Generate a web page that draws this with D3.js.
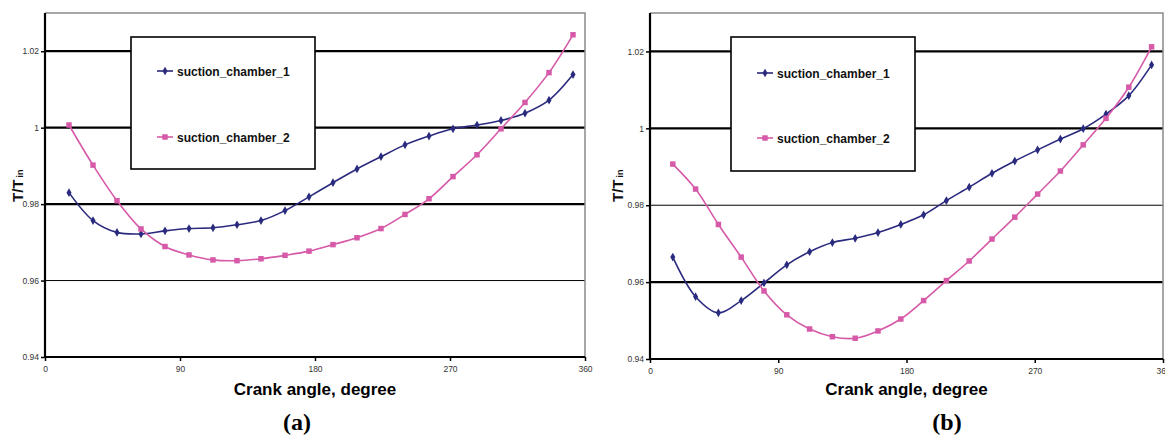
<!DOCTYPE html>
<html>
<head>
<meta charset="utf-8">
<script src="https://cdn.jsdelivr.net/npm/d3@7/dist/d3.min.js"></script>
<style>
  body { margin: 0; background: #fff; }
  svg { display: block; font-family: Arial, "Liberation Sans", sans-serif; }
</style>
</head>
<body>
<svg id="vis" width="1165" height="437"></svg>
<script>
// crank angles where the points were sampled
var angles = [16, 32, 48, 64, 80, 96, 112, 128, 144, 160, 176, 192, 208, 224, 240, 256, 272, 288, 304, 320, 336, 352];

// panel (a)
var chamber1A = [0.9830, 0.9757, 0.9726, 0.9722, 0.9730, 0.9736, 0.9738, 0.9746, 0.9757, 0.9783, 0.9819, 0.9856,
                 0.9892, 0.9924, 0.9955, 0.9978, 0.9997, 1.0007, 1.0019, 1.0038, 1.0072, 1.0139];
var chamber2A = [1.0007, 0.9902, 0.9809, 0.9735, 0.9689, 0.9667, 0.9654, 0.9652, 0.9657, 0.9666, 0.9677, 0.9694,
                 0.9712, 0.9736, 0.9773, 0.9814, 0.9872, 0.9929, 0.9997, 1.0066, 1.0144, 1.0243];

// panel (b)
var chamber1B = [0.9665, 0.9562, 0.9520, 0.9552, 0.9598, 0.9645, 0.9679, 0.9703, 0.9714, 0.9729, 0.9750, 0.9775,
                 0.9812, 0.9847, 0.9883, 0.9915, 0.9944, 0.9972, 0.9999, 1.0037, 1.0085, 1.0165];
var chamber2B = [0.9907, 0.9842, 0.9750, 0.9665, 0.9577, 0.9515, 0.9478, 0.9458, 0.9454, 0.9473, 0.9504, 0.9552,
                 0.9604, 0.9655, 0.9712, 0.9769, 0.9829, 0.9889, 0.9957, 1.0026, 1.0107, 1.0212];

var seriesNames = ["suction_chamber_1", "suction_chamber_2"];
var xTicks = [0, 90, 180, 270, 360];
var yTicks = [0.94, 0.96, 0.98, 1, 1.02];
var yTickLabels = ["0.94", "0.96", "0.98", "1", "1.02"];
var panelLabels = ["(a)", "(b)"];

var colors = ["#2a2a7e", "#d65aa8"];
var svg = d3.select("#vis");

////////// one panel //////////
function drawPanel(opt) {
  var x = d3.scaleLinear().domain([0, 360]).range(opt.xr);
  var y = d3.scaleLinear().domain([0.94, 1.03]).range(opt.yr);
  var g = svg.append("g");

  // gridlines (thickness differs per line in the original)
  g.selectAll("line.grid")
    .data(yTicks.slice(1))
    .enter().append("line")
    .attr("x1", opt.xr[0]).attr("x2", opt.xr[1])
    .attr("y1", function (d) { return y(d); })
    .attr("y2", function (d) { return y(d); })
    .attr("stroke", "#000")
    .attr("stroke-width", function (d, i) { return opt.gridW[i]; });

  // gray plot border top / right
  g.append("path")
    .attr("d", "M" + opt.xr[0] + "," + opt.yr[1] + "H" + opt.xr[1] + "V" + opt.yr[0])
    .attr("fill", "none").attr("stroke", "#8a8a8a").attr("stroke-width", 1.5);

  // axes
  var xAxis = g.append("g")
    .attr("transform", "translate(0," + opt.yr[0] + ")")
    .call(d3.axisBottom(x).tickValues(xTicks).tickSize(4).tickPadding(5).tickFormat(d3.format("d")));
  var yAxis = g.append("g")
    .attr("transform", "translate(" + opt.xr[0] + ",0)")
    .call(d3.axisLeft(y).tickValues(yTicks).tickSize(4).tickPadding(2)
      .tickFormat(function (d, i) { return yTickLabels[i]; }));
  [xAxis, yAxis].forEach(function (a) {
    a.select(".domain").attr("stroke", "#000").attr("stroke-width", 2.2);
    a.selectAll(".tick line").attr("stroke", "#000").attr("stroke-width", 1.5);
    a.selectAll(".tick text").attr("fill", "#333").style("font-size", "8.5px");
  });
  yAxis.select(".domain").attr("d", "M0," + opt.yr[0] + "V" + opt.yr[1]);
  xAxis.select(".domain").attr("d", "M" + opt.xr[0] + ",0H" + opt.xr[1]);

  // series
  var line = d3.line()
    .x(function (d) { return x(d[0]); })
    .y(function (d) { return y(d[1]); })
    .curve(d3.curveCatmullRom.alpha(0.5));

  opt.series.forEach(function (vals, si) {
    var pts = angles.map(function (a, i) { return [a, vals[i]]; });
    g.append("path")
      .datum(pts)
      .attr("d", line)
      .attr("fill", "none")
      .attr("stroke", colors[si])
      .attr("stroke-width", 1.6);
    var sym = si === 0 ? d3.symbolDiamond : d3.symbolSquare;
    g.selectAll("path.m" + si)
      .data(pts)
      .enter().append("path")
      .attr("class", "m" + si)
      .attr("transform", function (d) { return "translate(" + x(d[0]) + "," + y(d[1]) + ")"; })
      .attr("d", d3.symbol().type(sym).size(si === 0 ? 22 : 30))
      .attr("fill", colors[si]);
  });

  // legend
  var lg = g.append("g").attr("transform", "translate(" + opt.legend[0] + "," + opt.legend[1] + ")");
  lg.append("rect")
    .attr("width", opt.legend[2]).attr("height", opt.legend[3])
    .attr("fill", "#fff").attr("stroke", "#000").attr("stroke-width", 1.6);
  seriesNames.forEach(function (name, si) {
    var ly = si === 0 ? opt.legendRows[0] : opt.legendRows[1];
    lg.append("line")
      .attr("x1", 26).attr("x2", 42).attr("y1", ly).attr("y2", ly)
      .attr("stroke", colors[si]).attr("stroke-width", 1.6);
    lg.append("path")
      .attr("transform", "translate(34," + ly + ")")
      .attr("d", d3.symbol().type(si === 0 ? d3.symbolDiamond : d3.symbolSquare).size(si === 0 ? 22 : 30))
      .attr("fill", colors[si]);
    lg.append("text")
      .attr("x", 46).attr("y", ly + 4.5)
      .style("font-size", "12px").style("font-weight", "bold")
      .attr("fill", "#111")
      .text(name);
  });

  // axis titles
  var cx = (opt.xr[0] + opt.xr[1]) / 2;
  g.append("text")
    .attr("x", cx).attr("y", 395)
    .attr("text-anchor", "middle")
    .style("font-size", "17px").style("font-weight", "bold")
    .text("Crank angle, degree");

  var yt = g.append("text")
    .attr("transform", "translate(" + opt.yLabelX + ",202) rotate(-90)")
    .style("font-weight", "bold")
    .attr("fill", "#111");
  yt.append("tspan").style("font-size", "15px").text("T/T");
  yt.append("tspan").style("font-size", "9px").attr("dx", 2).attr("dy", 0).text("in");

  g.append("text")
    .attr("x", opt.tagX).attr("y", 430)
    .attr("text-anchor", "middle")
    .style("font-family", "'Liberation Serif', 'Times New Roman', serif")
    .style("font-size", "24px").style("font-weight", "bold")
    .text(opt.tag);
}

drawPanel({
  xr: [45, 585], yr: [357, 13],
  series: [chamber1A, chamber2A],
  gridW: [1, 2.2, 2.2, 2.2],
  legend: [131, 37, 184, 132], legendRows: [34, 100],
  yLabelX: 23, tagX: 297, tag: panelLabels[0]
});
drawPanel({
  xr: [650, 1163], yr: [359, 13],
  series: [chamber1B, chamber2B],
  gridW: [2.2, 1, 2.2, 2.2],
  legend: [731, 37, 184, 134], legendRows: [36, 101],
  yLabelX: 623, tagX: 947, tag: panelLabels[1]
});
</script>
</body>
</html>
